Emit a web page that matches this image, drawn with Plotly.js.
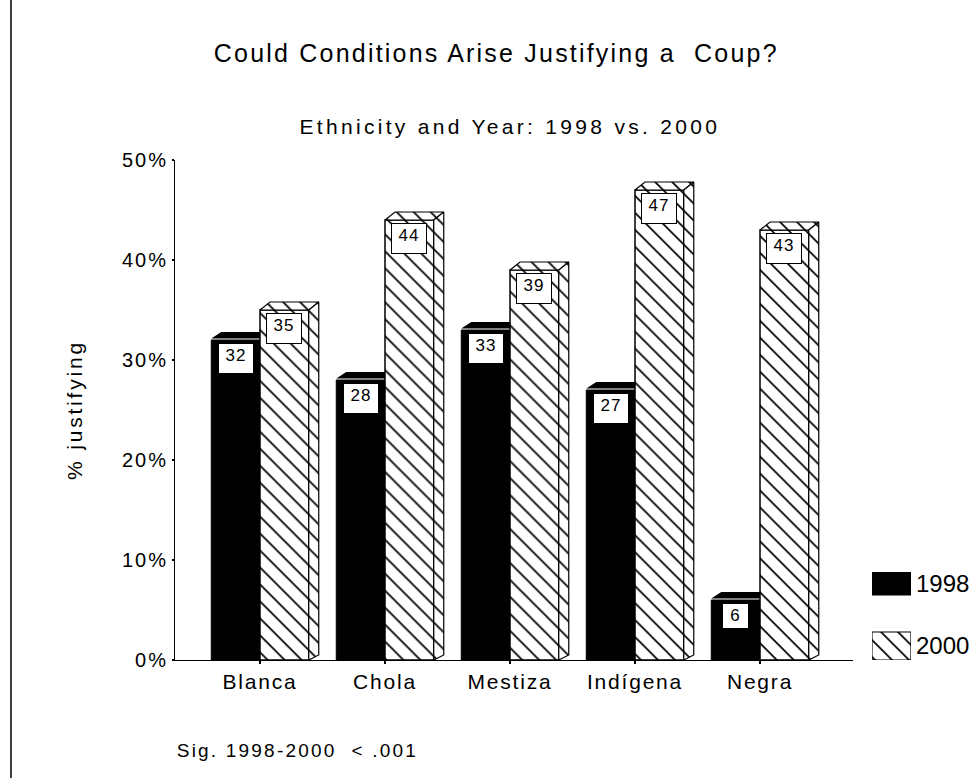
<!DOCTYPE html>
<html><head><meta charset="utf-8">
<script src="https://cdn.plot.ly/plotly-3.0.1.min.js"></script>
<style>
html,body{margin:0;padding:0;background:#fff;}
#chart{width:977px;height:778px;}
.gtitle{letter-spacing:2.2px;}
.xtick text{letter-spacing:1.8px;}
.ytick text{letter-spacing:2px;}
.ytitle{letter-spacing:2.8px;}
g.annotation text{letter-spacing:1px;}
g.annotation[data-index="0"] text{letter-spacing:3.3px;}
g.annotation[data-index="1"] text{letter-spacing:2.2px;}
</style>
</head><body>
<div id="chart"></div>
<script>
// ---- data ----
const categories = ['Blanca', 'Chola', 'Mestiza', 'Indígena', 'Negra'];
const values1998 = [32, 28, 33, 27, 6];
const values2000 = [35, 44, 39, 47, 43];
const seriesNames = ['1998', '2000'];
const yTickValues = [0, 10, 20, 30, 40, 50];
const yTickLabels = ['0%', '10%', '20%', '30%', '40%', '50%'];
const titleText = 'Could Conditions Arise Justifying a  Coup?';
const subtitleText = 'Ethnicity and Year: 1998 vs. 2000';
const yAxisTitle = '% justifying';
const noteText = 'Sig. 1998-2000  &lt; .001';

// ---- style / geometry ----
const FONT = 'Liberation Sans, Arial, sans-serif';
const BW = 0.39;   // bar width (category units)
const DX = 0.08;   // 3D depth, x (category units)
const DY = 0.8;    // 3D depth, y (value units)
const GAP = 0.15;
const hatch = {shape: '\\', fgcolor: '#000', bgcolor: '#fff', size: 12, solidity: 0.14};
const idx = categories.map((_, i) => i);

// faces
const top98x = [], top98y = [], top00x = [], top00y = [], side00x = [], side00y = [];
idx.forEach(i => {
  const v1 = values1998[i], v2 = values2000[i];
  const a0 = i - BW, a1 = i, b2 = i + BW;
  top98x.push(a0, a1, a1, a0 + DX, a0, null);
  top98y.push(v1 + GAP, v1 + GAP, v1 + DY, v1 + DY, v1 + GAP, null);
  top00x.push(a1, b2, b2 + DX, a1 + DX, a1, null);
  top00y.push(v2, v2, v2 + DY, v2 + DY, v2, null);
  side00x.push(b2, b2 + DX, b2 + DX, b2, b2, null);
  side00y.push(0, 0.5, v2 + DY, v2, 0, null);
});

const traces = [
  {type: 'bar', name: seriesNames[0], x: idx, y: values1998, offset: -BW, width: BW,
   marker: {color: '#000', line: {color: '#000', width: 1}}, hoverinfo: 'skip', showlegend: false},
  {type: 'bar', name: seriesNames[1], x: idx, y: values2000, offset: 0, width: BW,
   marker: {color: '#fff', pattern: hatch, line: {color: '#000', width: 1.5}}, hoverinfo: 'skip', showlegend: false},
  {type: 'scatter', mode: 'lines', x: top98x, y: top98y, fill: 'toself', fillcolor: '#000',
   line: {width: 0, color: '#000'}, hoverinfo: 'skip', showlegend: false},
  {type: 'scatter', mode: 'lines', x: top00x, y: top00y, fill: 'toself', fillcolor: '#fff', fillpattern: hatch,
   line: {width: 1.2, color: '#000'}, hoverinfo: 'skip', showlegend: false},
  {type: 'scatter', mode: 'lines', x: side00x, y: side00y, fill: 'toself', fillcolor: '#fff', fillpattern: hatch,
   line: {width: 1.2, color: '#000'}, hoverinfo: 'skip', showlegend: false},
  // legend keys
  {type: 'bar', orientation: 'h', xaxis: 'x2', yaxis: 'y2', y: [seriesNames[0]], x: [1], base: 0, width: 0.368,
   marker: {color: '#000', line: {color: '#000', width: 1}}, hoverinfo: 'skip', showlegend: false},
  {type: 'bar', orientation: 'h', xaxis: 'x2', yaxis: 'y2', y: [seriesNames[1]], x: [1], base: 0, width: 0.448,
   marker: {color: '#fff', pattern: hatch, line: {color: '#000', width: 1.2}}, hoverinfo: 'skip', showlegend: false}
];

const annotations = [
  {text: subtitleText, xref: 'paper', yref: 'paper', x: 0.4177, y: 1.066, xanchor: 'center', yanchor: 'middle',
   showarrow: false, font: {family: FONT, size: 21, color: '#000'}},
  {text: noteText, xref: 'paper', yref: 'paper', x: 0.1527, y: -0.18, xanchor: 'center', yanchor: 'middle',
   showarrow: false, font: {family: FONT, size: 19, color: '#000'}}
];
function labelBox(x, v) {
  const s = String(v);
  const one = s.length === 1;
  return {text: s, x: x, y: v, xref: 'x', yref: 'y', xanchor: 'center', yanchor: 'top', yshift: -3,
    showarrow: false, bgcolor: '#fff', bordercolor: '#000', borderwidth: 1, borderpad: 2,
    width: one ? 21 : 30, height: one ? 20 : 25, valign: 'top', align: 'center',
    font: {family: FONT, size: 17, color: '#000'}};
}
idx.forEach(i => {
  annotations.push(labelBox(i - BW / 2, values1998[i]));
  annotations.push(labelBox(i + BW / 2, values2000[i]));
});

const layout = {
  width: 977, height: 778,
  margin: {l: 175, r: 0, t: 160, b: 118},
  paper_bgcolor: '#fff', plot_bgcolor: '#fff',
  font: {family: FONT, color: '#000'},
  title: {text: titleText, xref: 'container', yref: 'container', x: 0.508, y: 0.932,
          xanchor: 'center', yanchor: 'middle', font: {family: FONT, size: 25, color: '#000'}},
  barmode: 'overlay',
  xaxis: {domain: [0, 0.8454], range: [-0.68, 4.744], tickvals: idx, ticktext: categories,
          showline: true, linecolor: '#000', linewidth: 1, ticks: 'outside', ticklen: 3, tickwidth: 2,
          tickcolor: '#000', showgrid: false, zeroline: false, tickfont: {family: FONT, size: 21, color: '#000'},
          fixedrange: true},
  yaxis: {range: [0, 50], tickvals: yTickValues, ticktext: yTickLabels, showline: true, linecolor: '#000', linewidth: 1,
          ticks: 'outside', ticklen: 2, tickwidth: 2, tickcolor: '#000', showgrid: false, zeroline: false,
          tickfont: {family: FONT, size: 20, color: '#000'},
          title: {text: yAxisTitle, standoff: 33, font: {family: FONT, size: 21, color: '#000'}}, fixedrange: true},
  xaxis2: {domain: [0.869, 0.9177], range: [0, 1], anchor: 'y2', visible: false, fixedrange: true},
  yaxis2: {domain: [0, 0.176], anchor: 'x2', type: 'category', range: [1.224, -0.184], side: 'right',
           showline: false, showgrid: false, zeroline: false, ticks: '', ticklabelstandoff: 4,
           tickfont: {family: FONT, size: 24, color: '#000'}, fixedrange: true},
  shapes: [
    {type: 'line', xref: 'paper', yref: 'paper', x0: -0.2045, x1: -0.2045, y0: -0.236, y1: 1.32,
     line: {color: '#000', width: 1.5}}
  ],
  annotations: annotations,
  showlegend: false
};

Plotly.newPlot('chart', traces, layout, {displayModeBar: false, staticPlot: true});
</script>
</body></html>
